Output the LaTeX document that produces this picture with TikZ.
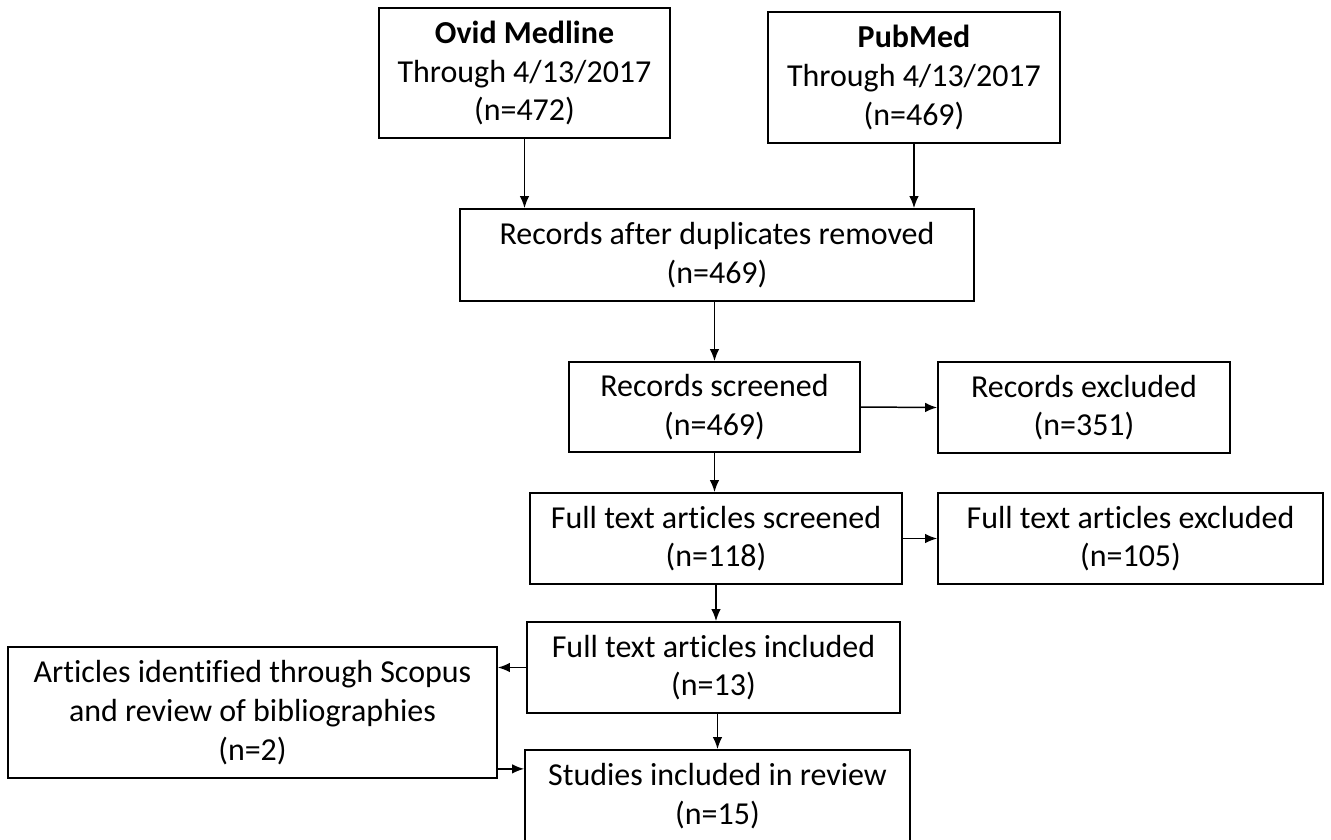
\documentclass[tikz,border=0pt]{standalone}
\usepackage{fontspec}
\setmainfont{Carlito}[Ligatures=CommonOff]
\usetikzlibrary{arrows.meta}

\begin{document}
\begin{tikzpicture}[x=0.02cm, y=-0.02cm, >={Latex[length=2.4mm,width=1.9mm]},
  box/.style={draw, line width=1pt, align=center, inner sep=0pt, font=\fontsize{18.2pt}{22pt}\selectfont},
  link/.style={->, line width=0.85pt}]
\clip (0,0) rectangle (1331,839);

% sources
\node [box, minimum width=5.82cm, minimum height=2.60cm] (ovid) at (524.5,73) {\textbf{Ovid Medline}\\Through 4/13/2017\\(n=472)};
\node [box, minimum width=5.84cm, minimum height=2.62cm] (pubmed) at (914,77.5) {\textbf{PubMed}\\Through 4/13/2017\\(n=469)};

% screening
\node [box, minimum width=10.28cm, minimum height=1.84cm] (dedup) at (717,255) {Records after duplicates removed\\(n=469)};
\node [box, minimum width=5.82cm, minimum height=1.80cm] (screened) at (714.5,407) {Records screened\\(n=469)};
\node [box, minimum width=5.84cm, minimum height=1.82cm] (recexcl) at (1084,407.5) {Records excluded\\(n=351)};
\node [box, minimum width=7.44cm, minimum height=1.82cm] (ftscreened) at (716,538.5) {Full text articles screened\\(n=118)};
\node [box, minimum width=7.70cm, minimum height=1.82cm] (ftexcl) at (1130.5,538.5) {Full text articles excluded\\(n=105)};

% inclusion
\node [box, minimum width=7.46cm, minimum height=1.82cm] (ftincl) at (713.5,667.5) {Full text articles included\\(n=13)};
\node [box, minimum width=9.78cm, minimum height=2.62cm] (scopus) at (252.5,712.5) {Articles identified through Scopus\\and review of bibliographies\\(n=2)};
\node [box, minimum width=7.70cm, minimum height=1.84cm] (studies) at (717.5,796) {Studies included in review\\(n=15)};

\draw [link] (ovid.south) -- (ovid.south |- dedup.north);
\draw [link] (pubmed.south) -- (pubmed.south |- dedup.north);
\draw [link] (screened.north |- dedup.south) -- (screened.north);
\draw [link] (screened.east) -- (recexcl.west);
\draw [link] (screened.south) -- (screened.south |- ftscreened.north);
\draw [link] (ftscreened.east) -- (ftexcl.west);
\draw [link] (ftscreened.south) -- (ftscreened.south |- ftincl.north);
\draw [link] (ftincl.west) -- (ftincl.west -| scopus.east);
\draw [link] (studies.north |- ftincl.south) -- (studies.north);
\draw [link] ([yshift=0.2cm]scopus.south east) -- ([yshift=0.2cm]scopus.south east -| studies.west);
\end{tikzpicture}
\end{document}
